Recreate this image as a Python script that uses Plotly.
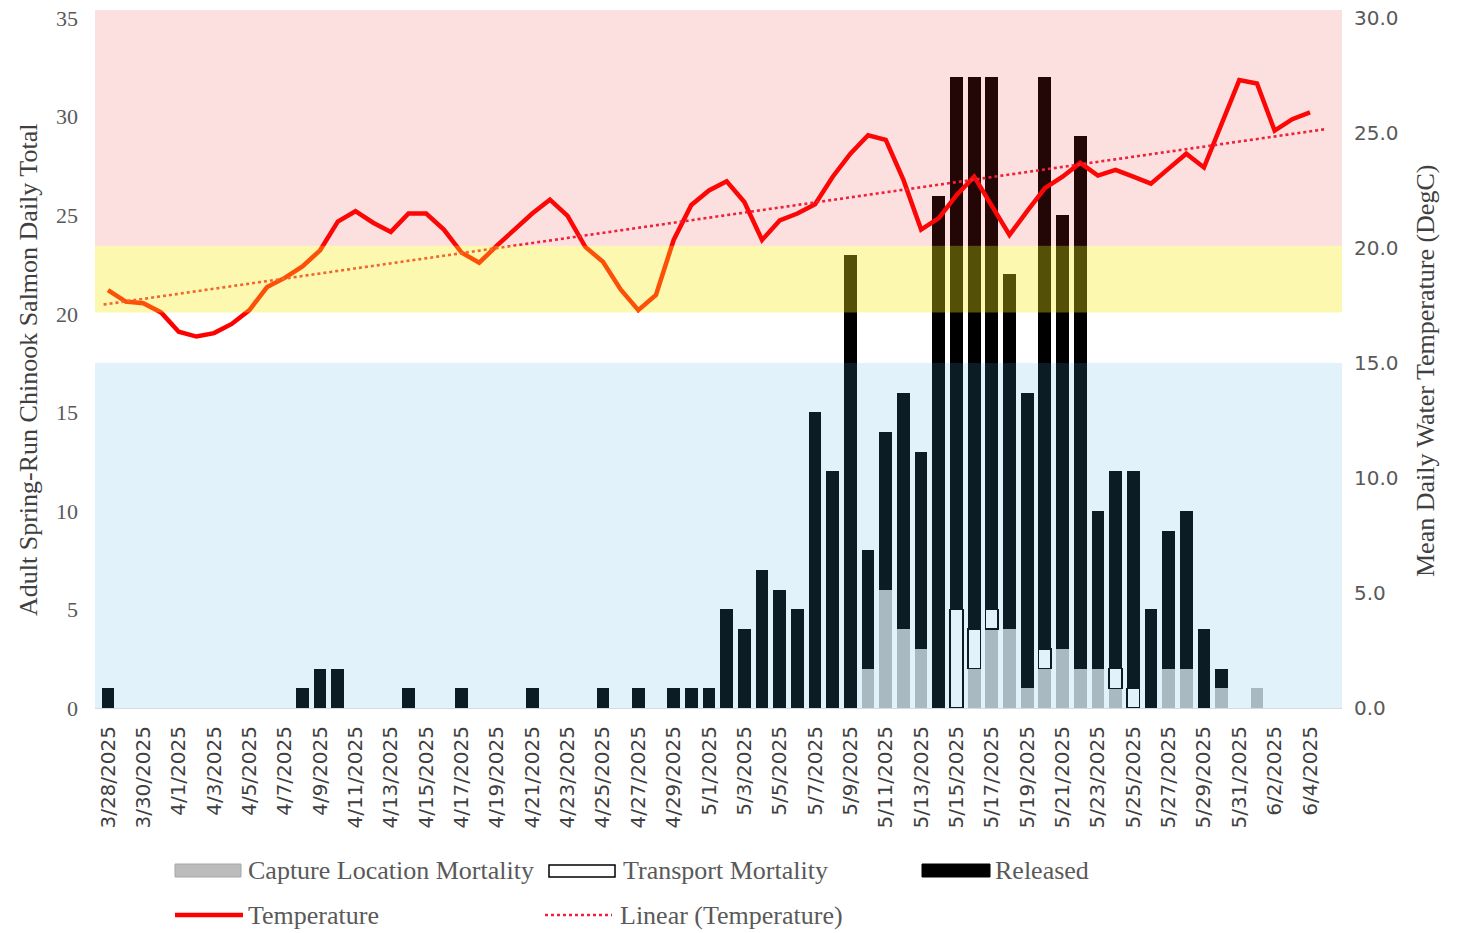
import numpy as np
import plotly.graph_objects as go

# ---------------- data ----------------
dates = [
    "3/28/2025", "3/29/2025", "3/30/2025", "3/31/2025",
    "4/1/2025", "4/2/2025", "4/3/2025", "4/4/2025", "4/5/2025", "4/6/2025", "4/7/2025",
    "4/8/2025", "4/9/2025", "4/10/2025", "4/11/2025", "4/12/2025", "4/13/2025", "4/14/2025",
    "4/15/2025", "4/16/2025", "4/17/2025", "4/18/2025", "4/19/2025", "4/20/2025", "4/21/2025",
    "4/22/2025", "4/23/2025", "4/24/2025", "4/25/2025", "4/26/2025", "4/27/2025", "4/28/2025",
    "4/29/2025", "4/30/2025",
    "5/1/2025", "5/2/2025", "5/3/2025", "5/4/2025", "5/5/2025", "5/6/2025", "5/7/2025",
    "5/8/2025", "5/9/2025", "5/10/2025", "5/11/2025", "5/12/2025", "5/13/2025", "5/14/2025",
    "5/15/2025", "5/16/2025", "5/17/2025", "5/18/2025", "5/19/2025", "5/20/2025", "5/21/2025",
    "5/22/2025", "5/23/2025", "5/24/2025", "5/25/2025", "5/26/2025", "5/27/2025", "5/28/2025",
    "5/29/2025", "5/30/2025", "5/31/2025",
    "6/1/2025", "6/2/2025", "6/3/2025", "6/4/2025",
]

released = [
    1, 0, 0, 0, 0, 0, 0, 0, 0, 0,
    0, 1, 2, 2, 0, 0, 0, 1, 0, 0,
    1, 0, 0, 0, 1, 0, 0, 0, 1, 0,
    1, 0, 1, 1, 1, 5, 4, 7, 6, 5,
    15, 12, 23, 6, 8, 12, 10, 26, 27, 28,
    27, 18, 15, 29, 22, 27, 8, 10, 11, 5,
    7, 8, 4, 1, 0, 0, 0, 0, 0,
]

capture_mortality = [0] * 40 + [
    0, 0, 0, 2, 6, 4, 3, 0, 0, 2,
    4, 4, 1, 2, 3, 2, 2, 1, 0, 0,
    2, 2, 0, 1, 0, 1, 0, 0, 0,
]

transport_mortality = [0] * 40 + [
    0, 0, 0, 0, 0, 0, 0, 0, 5, 2,
    1, 0, 0, 1, 0, 0, 0, 1, 1, 0,
    0, 0, 0, 0, 0, 0, 0, 0, 0,
]

temperature = [
    18.17, 17.67, 17.6, 17.2, 16.36, 16.15, 16.3, 16.7, 17.3, 18.3,
    18.7, 19.2, 19.9, 21.15, 21.6, 21.1, 20.7, 21.5, 21.5, 20.8,
    19.8, 19.36, 20.1, 20.8, 21.5, 22.1, 21.4, 20.05, 19.4, 18.2,
    17.3, 17.96, 20.35, 21.87, 22.5, 22.9, 22.0, 20.35, 21.2, 21.5,
    21.9, 23.1, 24.1, 24.9, 24.7, 22.96, 20.8, 21.3, 22.3, 23.1,
    21.8, 20.57, 21.6, 22.6, 23.1, 23.7, 23.15, 23.4, 23.1, 22.8,
    23.45, 24.1, 23.5, 25.4, 27.3, 27.15, 25.1, 25.6, 25.9,
]

# temperature bands (deg C, right axis)
band_blue = (0, 15.0)
band_yellow = (17.2, 20.1)
band_pink = (20.1, 30.35)

# ---------------- figure ----------------
idx = list(range(len(dates)))


def nz(vals):
    return [v if v else None for v in vals]


fig = go.Figure()
bar_w = 0.72
fig.add_trace(go.Bar(
    x=idx, y=nz(capture_mortality), name="Capture Location Mortality",
    marker=dict(color="#bcbcbc", line=dict(width=0)), width=bar_w,
))
fig.add_trace(go.Bar(
    x=idx, y=nz(transport_mortality), name="Transport Mortality",
    marker=dict(color="#ffffff", line=dict(color="#000000", width=1.5)), width=bar_w,
))
fig.add_trace(go.Bar(
    x=idx, y=nz(released), name="Released",
    marker=dict(color="#000000", line=dict(width=0)), width=bar_w,
))
fig.add_trace(go.Scatter(
    x=idx, y=temperature, name="Temperature", mode="lines",
    line=dict(color="#ff0000", width=4.5), yaxis="y2",
))
# linear trendline fitted to the temperature series
coef = np.polyfit(np.array(idx, dtype=float), np.array(temperature), 1)
tx = np.array([-0.25, len(dates) - 0.05])
fig.add_trace(go.Scatter(
    x=tx, y=np.polyval(coef, tx), name="Linear (Temperature)", mode="lines",
    line=dict(color="#f0203c", width=2.6, dash="dot"), yaxis="y2",
))

# plot-area geometry in page pixels (body margin removed by post_script)
L, R, T, B = 95, 1342, 10, 708
W, H = 1461, 933


def px_x(p):
    return (p - L) / (R - L)


def px_y(p):
    return (B - p) / (B - T)


shapes = []
for (y0, y1), col in [(band_blue, "rgba(67,173,227,0.16)"),
                      (band_yellow, "rgba(250,235,20,0.34)"),
                      (band_pink, "rgba(232,40,40,0.15)")]:
    shapes.append(dict(type="rect", xref="paper", yref="y2", x0=0, x1=1, y0=y0, y1=y1,
                       fillcolor=col, line=dict(width=0), layer="above"))

# custom legend (Excel style swatches)
leg_font = dict(family="Liberation Serif", size=26, color="#595959")
shapes += [
    dict(type="rect", xref="paper", yref="paper", x0=px_x(175), x1=px_x(241),
         y0=px_y(877), y1=px_y(864), fillcolor="#bcbcbc", line=dict(color="#a6a6a6", width=1)),
    dict(type="rect", xref="paper", yref="paper", x0=px_x(549), x1=px_x(615),
         y0=px_y(877), y1=px_y(865), fillcolor="#ffffff", line=dict(color="#000000", width=1.5)),
    dict(type="rect", xref="paper", yref="paper", x0=px_x(922), x1=px_x(990),
         y0=px_y(877), y1=px_y(864), fillcolor="#000000", line=dict(color="#000000", width=1)),
    dict(type="line", xref="paper", yref="paper", x0=px_x(175), x1=px_x(243),
         y0=px_y(915), y1=px_y(915), line=dict(color="#ff0000", width=4.5)),
    dict(type="line", xref="paper", yref="paper", x0=px_x(545), x1=px_x(612),
         y0=px_y(915), y1=px_y(915), line=dict(color="#f0203c", width=2.6, dash="dot")),
]
annotations = []
for text, xp, yp in [("Capture Location Mortality", 246, 870),
                     ("Transport Mortality", 621, 870),
                     ("Released", 993, 870),
                     ("Temperature", 246, 915),
                     ("Linear (Temperature)", 618, 915)]:
    annotations.append(dict(text=text, xref="paper", yref="paper", x=px_x(xp), y=px_y(yp),
                            xanchor="left", yanchor="middle", showarrow=False, font=leg_font))

# axis titles
annotations.append(dict(text="Adult Spring-Run Chinook Salmon Daily Total", xref="paper", yref="paper",
                        x=px_x(28), y=px_y(370), textangle=-90, showarrow=False,
                        xanchor="center", yanchor="middle",
                        font=dict(family="Liberation Serif", size=26, color="#404040")))
annotations.append(dict(text="Mean Daily Water Temperature (DegC)", xref="paper", yref="paper",
                        x=px_x(1425), y=px_y(371), textangle=-90, showarrow=False,
                        xanchor="center", yanchor="middle",
                        font=dict(family="Liberation Serif", size=26, color="#404040")))

fig.update_layout(
    width=W, height=H,
    margin=dict(l=L, r=W - R, t=T, b=H - B, autoexpand=False),
    paper_bgcolor="#ffffff", plot_bgcolor="#ffffff",
    barmode="stack", showlegend=False,
    shapes=shapes, annotations=annotations,
    xaxis=dict(
        range=[-(108 - L) / 17.68, 68 + (R - 1310) / 17.68],
        tickmode="array", tickvals=idx[::2], ticktext=dates[::2],
        tickangle=-90, showgrid=False, zeroline=False,
        showline=True, linecolor="#d9d9d9", linewidth=1,
        ticks="", ticklabelstandoff=9,
        tickfont=dict(family="DejaVu Sans", size=20, color="#404040"),
    ),
    yaxis=dict(
        range=[0, (B - T) / 19.71], tickvals=[0, 5, 10, 15, 20, 25, 30, 35],
        showgrid=False, zeroline=False, showline=False, ticks="",
        ticklabelstandoff=16, ticklabeloverflow="allow",
        tickfont=dict(family="Liberation Serif", size=22, color="#595959"),
    ),
    yaxis2=dict(
        overlaying="y", side="right",
        range=[0, (B - T) / 23.0], tickvals=[0, 5, 10, 15, 20, 25, 30],
        ticktext=["0.0", "5.0", "10.0", "15.0", "20.0", "25.0", "30.0"],
        showgrid=False, zeroline=False, showline=False, ticks="",
        ticklabelstandoff=11, ticklabeloverflow="allow",
        tickfont=dict(family="DejaVu Sans", size=20, color="#595959"),
    ),
)

fig.write_html(
    "out.html",
    config={"displayModeBar": False},
    post_script="document.body.style.margin='0px';document.body.style.overflow='hidden';",
)
